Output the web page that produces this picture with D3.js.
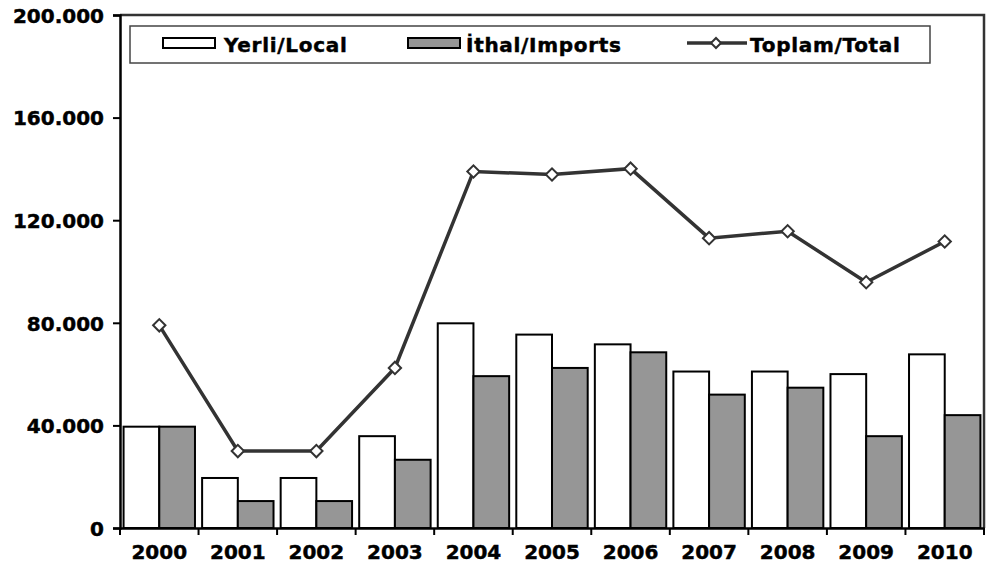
<!DOCTYPE html>
<html>
<head>
<meta charset="utf-8">
<script src="https://cdn.jsdelivr.net/npm/d3@7"></script>
<style>
  html, body { margin: 0; padding: 0; background: #fff; }
  svg text { font-family: "DejaVu Sans", Verdana, sans-serif; font-weight: bold; fill: #000; stroke: #000; stroke-width: 0.45px; }
  .legend text { letter-spacing: 0.7px; }
</style>
</head>
<body>
<svg id="chart" width="995" height="572"></svg>
<script>
// Yearly quantities (thousands shown with "." grouping)
const years = ["2000", "2001", "2002", "2003", "2004", "2005", "2006", "2007", "2008", "2009", "2010"];
const local = [39500, 19500, 19500, 35800, 79800, 75400, 71600, 61000, 61000, 60000, 67700];
const imports = [39500, 10500, 10500, 26600, 59200, 62400, 68500, 52000, 54700, 35800, 44000];
const total = [79000, 30000, 30000, 62400, 139000, 137800, 140100, 113000, 115700, 95800, 111700];
const yTicks = [0, 40000, 80000, 120000, 160000, 200000];
const seriesNames = ["Yerli/Local", "İthal/Imports", "Toplam/Total"];

const svg = d3.select("#chart");
const margin = { left: 120, right: 11, top: 15, bottom: 44 };
const W = 995, H = 572;
const plotW = W - margin.left - margin.right;
const plotH = H - margin.top - margin.bottom;

const g = svg.append("g").attr("transform", `translate(${margin.left},${margin.top})`);

const x = d3.scaleBand().domain(years).range([0, plotW]).paddingInner(0).paddingOuter(0);
const x1 = d3.scaleBand().domain(["local", "imports"]).range([0, x.bandwidth()]).paddingOuter(0.1).paddingInner(0);
const y = d3.scaleLinear().domain([0, 200000]).range([plotH, 0]);

const fmt = v => d3.format(",")(v).replace(/,/g, ".");

// Frame: top and right edges
g.append("path")
  .attr("d", `M0,0H${plotW}V${plotH}`)
  .attr("fill", "none").attr("stroke", "#333").attr("stroke-width", 2.5);

// Bars
const rows = years.map((yr, i) => ({ yr, local: local[i], imports: imports[i], total: total[i] }));
const bars = g.append("g");
[["local", "#ffffff"], ["imports", "#969696"]].forEach(([key, fill]) => {
  bars.selectAll(`rect.${key}`).data(rows).join("rect")
    .attr("class", key)
    .attr("x", d => x(d.yr) + x1(key))
    .attr("width", x1.bandwidth())
    .attr("y", d => y(d[key]))
    .attr("height", d => plotH - y(d[key]))
    .attr("fill", fill)
    .attr("stroke", "#000").attr("stroke-width", 2);
});

// Total line with diamond markers
const line = d3.line().x(d => x(d.yr) + x.bandwidth() / 2).y(d => y(d.total));
g.append("path").datum(rows).attr("d", line)
  .attr("fill", "none").attr("stroke", "#333").attr("stroke-width", 3.5);
g.selectAll("path.mk").data(rows).join("path")
  .attr("class", "mk")
  .attr("transform", d => `translate(${x(d.yr) + x.bandwidth() / 2},${y(d.total)}) rotate(45)`)
  .attr("d", d3.symbol().type(d3.symbolSquare).size(76))
  .attr("fill", "#fff").attr("stroke", "#333").attr("stroke-width", 2);

// Y axis
const yAxis = g.append("g")
  .call(d3.axisLeft(y).tickValues(yTicks).tickFormat(fmt).tickSize(7).tickPadding(9));
yAxis.select(".domain").attr("stroke", "#000").attr("stroke-width", 2.5);
yAxis.selectAll(".tick line").attr("stroke", "#000").attr("stroke-width", 2);
yAxis.selectAll("text").style("font-size", "20px").attr("dy", "0.36em");

// X axis with ticks at band boundaries
const xAxis = g.append("g").attr("transform", `translate(0,${plotH})`)
  .call(d3.axisBottom(x).tickSize(0).tickPadding(15));
xAxis.select(".domain").attr("stroke", "#000").attr("stroke-width", 2.5);
xAxis.selectAll("text").style("font-size", "20px").attr("dy", "0.8em");
const edges = years.map(d => x(d)).concat([plotW]);
xAxis.selectAll("line.edge").data(edges).join("line")
  .attr("class", "edge")
  .attr("x1", d => d).attr("x2", d => d).attr("y1", 0).attr("y2", 7)
  .attr("stroke", "#000").attr("stroke-width", 2);

// Legend
const lg = svg.append("g").attr("class", "legend").attr("transform", "translate(130,26)");
lg.append("rect").attr("width", 800).attr("height", 37)
  .attr("fill", "#fff").attr("stroke", "#444").attr("stroke-width", 1.5);
lg.append("rect").attr("x", 33).attr("y", 12).attr("width", 52).attr("height", 10)
  .attr("fill", "#fff").attr("stroke", "#000").attr("stroke-width", 2);
lg.append("text").attr("x", 94).attr("y", 25.5).style("font-size", "20px").text(seriesNames[0]);
lg.append("rect").attr("x", 278).attr("y", 12).attr("width", 52).attr("height", 10)
  .attr("fill", "#969696").attr("stroke", "#000").attr("stroke-width", 2);
lg.append("text").attr("x", 336).attr("y", 25.5).style("font-size", "20px").text(seriesNames[1]);
lg.append("line").attr("x1", 557).attr("x2", 617).attr("y1", 17).attr("y2", 17)
  .attr("stroke", "#333").attr("stroke-width", 3.5);
lg.append("path").attr("transform", "translate(586,17) rotate(45)")
  .attr("d", d3.symbol().type(d3.symbolSquare).size(50))
  .attr("fill", "#fff").attr("stroke", "#333").attr("stroke-width", 2);
lg.append("text").attr("x", 620).attr("y", 25.5).style("font-size", "20px").text(seriesNames[2]);
</script>
</body>
</html>
